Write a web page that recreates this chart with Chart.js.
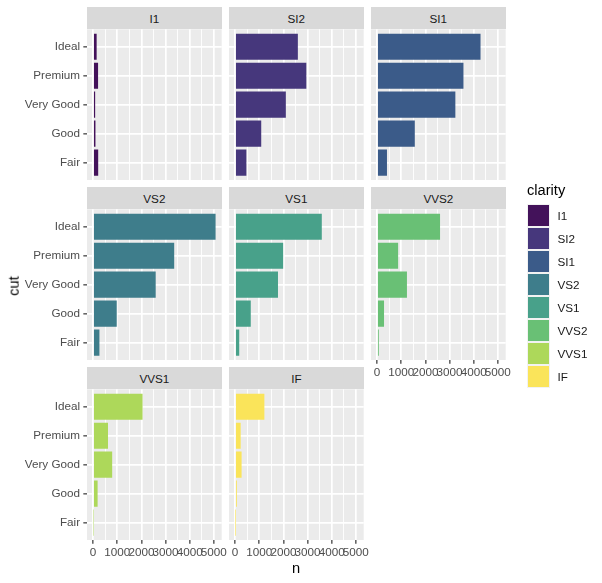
<!DOCTYPE html>
<html>
<head>
<meta charset="utf-8">
<script src="https://cdn.jsdelivr.net/npm/chart.js@4.4.1/dist/chart.umd.min.js"></script>
<style>
  html, body { margin: 0; padding: 0; background: #ffffff; }
  body { width: 602px; height: 583px; position: relative; overflow: hidden; font-family: "Liberation Sans", Arial, sans-serif; }
  canvas { position: absolute; left: 0; top: 0; }
  .strip { position: absolute; background: #D9D9D9; color: #1A1A1A; font-size: 11.7px; text-align: center; box-sizing: border-box; padding-top: 1px; }
  .title { position: absolute; color: #000; font-size: 14.67px; line-height: 1; white-space: nowrap; }
  .legend-title { position: absolute; left: 527px; top: 183px; font-size: 14.67px; line-height: 1; color: #000; }
  .key { position: absolute; left: 527px; width: 23px; height: 23px; background: #F2F2F2; }
  .key span { position: absolute; left: 0.8px; top: 0.8px; width: 21.4px; height: 21.4px; }
  .klab { position: absolute; left: 557.5px; font-size: 11.7px; line-height: 23px; color: #1A1A1A; }
</style>
</head>
<body>
<script>
// ---- data (diamonds: count by cut within each clarity) ----
const cuts = ['Fair', 'Good', 'Very Good', 'Premium', 'Ideal'];
const clarities = ['I1', 'SI2', 'SI1', 'VS2', 'VS1', 'VVS2', 'VVS1', 'IF'];
const xTicks = [0, 1000, 2000, 3000, 4000, 5000];
// counts in order Fair, Good, Very Good, Premium, Ideal
const nI1   = [210, 96, 84, 205, 146];
const nSI2  = [466, 1081, 2100, 2949, 2598];
const nSI1  = [408, 1560, 3240, 3575, 4282];
const nVS2  = [261, 978, 2591, 3357, 5071];
const nVS1  = [170, 648, 1775, 1989, 3589];
const nVVS2 = [69, 286, 1235, 870, 2606];
const nVVS1 = [17, 186, 789, 616, 2047];
const nIF   = [9, 71, 268, 230, 1212];
const seriesByClarity = [nI1, nSI2, nSI1, nVS2, nVS1, nVVS2, nVVS1, nIF];
const colors = ['#43125A', '#46377C', '#3B5B89', '#3E7D8B', '#48A18A', '#69C075', '#ADD85A', '#FAE45A'];

// ---- layout ----
const W = 602, H = 583;
const colLeft = [87, 229, 371];
const panelW = 134.7;
const stripTop = [7.3, 187.3, 367.3];
const stripH = 22;
const panelH = 150.7;
const xMax = Math.max(...seriesByClarity.flat());
const xPad = xMax * 0.05;
const yMin = 0.4, yMax = 5.6;

// strips & charts
clarities.forEach((cl, i) => {
  const row = Math.floor(i / 3), col = i % 3;
  const left = colLeft[col];
  const top = stripTop[row] + stripH;
  const right = left + panelW;
  const bottom = top + panelH;
  const showY = col === 0;
  const showX = (row === 2) || (row === 1 && col === 2);

  const s = document.createElement('div');
  s.className = 'strip';
  s.style.left = left + 'px';
  s.style.top = stripTop[row] + 'px';
  s.style.width = panelW + 'px';
  s.style.height = stripH + 'px';
  s.style.lineHeight = (stripH - 1) + 'px';
  s.textContent = cl;
  document.body.appendChild(s);

  const yW = showY ? left : 0;
  const xH = showX ? 20 : 0;

  const cv = document.createElement('canvas');
  cv.width = W; cv.height = H;
  document.body.appendChild(cv);

  const vals = seriesByClarity[i];
  new Chart(cv, {
    type: 'bar',
    data: {
      datasets: [{
        label: cl,
        data: vals.map((v, k) => ({ x: v, y: k + 1 })),
        backgroundColor: colors[i],
        borderWidth: 0,
        barPercentage: 0.9,
        categoryPercentage: 1.0
      }]
    },
    options: {
      indexAxis: 'y',
      responsive: false,
      animation: false,
      events: [],
      devicePixelRatio: 1,
      layout: { padding: { left: left - yW, top: top, right: W - right, bottom: H - bottom - xH } },
      plugins: { legend: { display: false }, tooltip: { enabled: false }, title: { display: false } },
      scales: {
        x: {
          type: 'linear',
          position: 'bottom',
          min: -xPad, max: xMax + xPad,
          afterBuildTicks: (sc) => {
            const t = [];
            for (let v = 0; v <= 5000; v += 500) t.push({ value: v });
            sc.ticks = t;
          },
          afterFit: (sc) => { sc.height = xH; sc.paddingLeft = 0; sc.paddingRight = 0; },
          border: { display: false },
          grid: {
            display: true,
            drawOnChartArea: true,
            drawTicks: showX,
            tickLength: 3.67,
            color: '#FFFFFF',
            lineWidth: (ctx) => (ctx.tick && ctx.tick.value % 1000 === 0) ? 1.7 : 0.9,
            tickColor: (ctx) => (ctx.tick && ctx.tick.value % 1000 === 0) ? '#333333' : 'rgba(0,0,0,0)',
            tickWidth: 1.2
          },
          ticks: {
            display: showX,
            autoSkip: false,
            maxRotation: 0, minRotation: 0,
            padding: 2,
            color: '#4D4D4D',
            font: { family: 'Liberation Sans', size: 11.7 },
            callback: (v) => (xTicks.includes(v) ? String(v) : '')
          }
        },
        y: {
          type: 'linear',
          position: 'left',
          min: yMin, max: yMax,
          offset: false,
          afterBuildTicks: (sc) => { sc.ticks = cuts.map((c, k) => ({ value: k + 1 })); },
          afterFit: (sc) => { sc.width = yW; sc.paddingTop = 0; sc.paddingBottom = 0; },
          border: { display: false },
          grid: {
            display: true,
            offset: false,
            drawOnChartArea: true,
            drawTicks: showY,
            tickLength: 3.67,
            color: '#FFFFFF',
            lineWidth: 1.7,
            tickColor: '#333333',
            tickWidth: 1.2
          },
          ticks: {
            display: showY,
            autoSkip: false,
            padding: 3.3,
            color: '#4D4D4D',
            font: { family: 'Liberation Sans', size: 11.7 },
            callback: (v) => cuts[Math.round(v) - 1]
          }
        }
      }
    },
    plugins: [{
      id: 'panelBg',
      beforeDraw: (chart) => {
        const a = chart.chartArea, c = chart.ctx;
        c.save();
        c.fillStyle = '#EBEBEB';
        c.fillRect(a.left, a.top, a.right - a.left, a.bottom - a.top);
        c.restore();
      }
    }]
  });
});

// axis titles
const tx = document.createElement('div');
tx.className = 'title';
tx.textContent = 'n';
tx.style.left = '0px';
tx.style.width = (2 * 296) + 'px';
tx.style.textAlign = 'center';
tx.style.top = '560.5px';
document.body.appendChild(tx);

const ty = document.createElement('div');
ty.className = 'title';
ty.textContent = 'cut';
ty.style.left = '13.7px';
ty.style.top = '285.5px';
ty.style.transform = 'translate(-50%, -50%) rotate(-90deg)';
document.body.appendChild(ty);

// legend
const lt = document.createElement('div');
lt.className = 'legend-title';
lt.textContent = 'clarity';
document.body.appendChild(lt);
clarities.forEach((cl, i) => {
  const topY = 204.2 + i * 23;
  const k = document.createElement('div');
  k.className = 'key';
  k.style.top = topY + 'px';
  const sp = document.createElement('span');
  sp.style.background = colors[i];
  k.appendChild(sp);
  document.body.appendChild(k);
  const lb = document.createElement('div');
  lb.className = 'klab';
  lb.style.top = topY + 'px';
  lb.textContent = cl;
  document.body.appendChild(lb);
});
</script>
</body>
</html>
